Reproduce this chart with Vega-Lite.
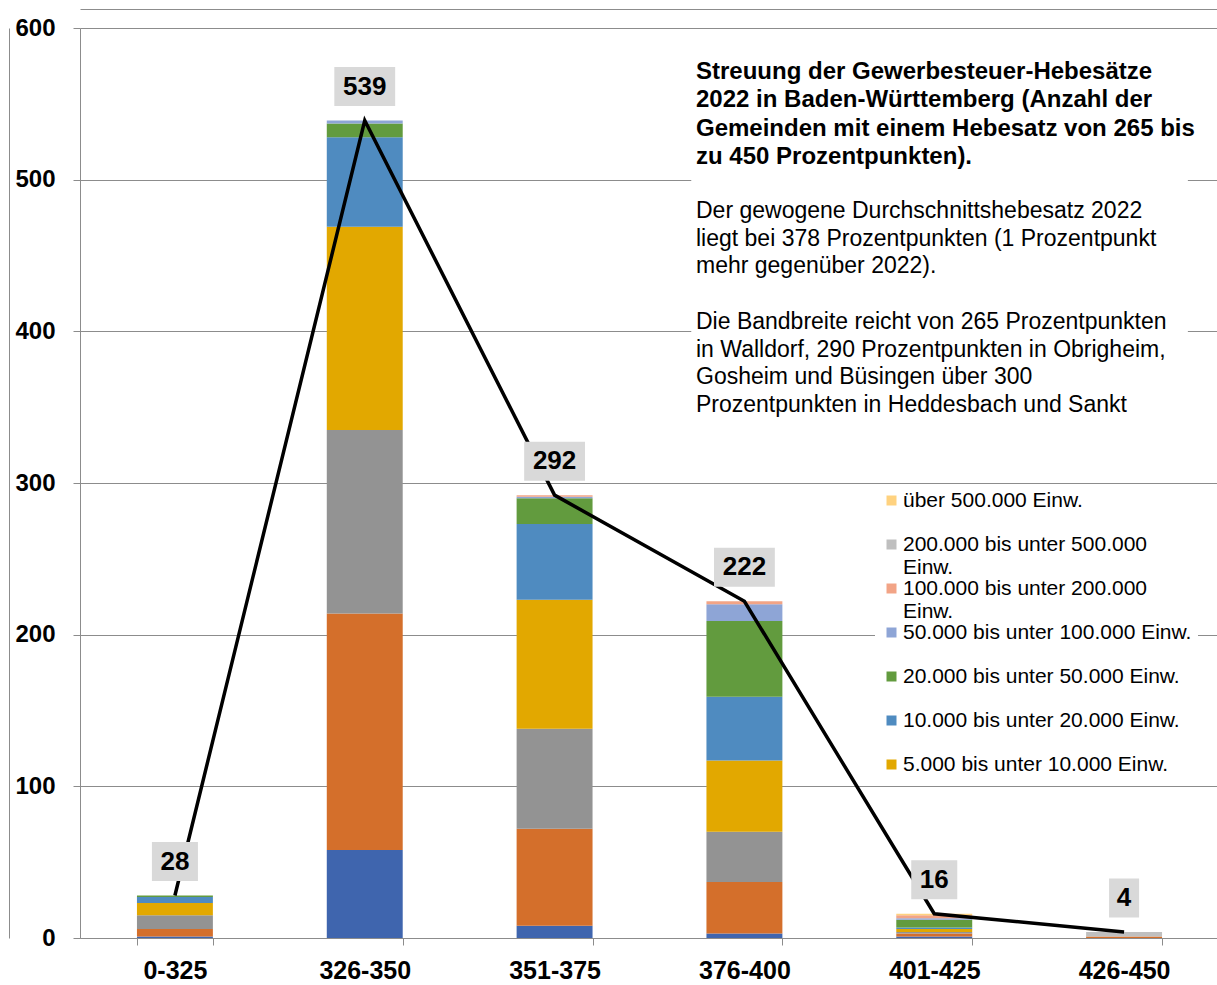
{
  "$schema": "https://vega.github.io/schema/vega-lite/v6.json",
  "width": 1139,
  "height": 910,
  "autosize": {"type": "none"},
  "padding": {"left": 80, "top": 28, "right": 0, "bottom": 47},
  "background": "white",
  "config": {"view": {"stroke": null}, "font": "Liberation Sans"},
  "title": {
    "text": ["Streuung der Gewerbesteuer-Hebesätze", "2022 in Baden-Württemberg (Anzahl der", "Gemeinden mit einem Hebesatz von 265 bis", "zu 450 Prozentpunkten)."],
    "subtitle": ["Der gewogene Durchschnittshebesatz 2022", "liegt bei 378 Prozentpunkten (1 Prozentpunkt", "mehr gegenüber 2022).", "\u200b", "Die Bandbreite reicht von 265 Prozentpunkten", "in Walldorf, 290 Prozentpunkten in Obrigheim,", "Gosheim und Büsingen über 300", "Prozentpunkten in Heddesbach und Sankt"],
    "orient": "top",
    "anchor": "start",
    "frame": "group",
    "offset": 0,
    "dx": 616,
    "dy": 408,
    "font": "Liberation Sans",
    "fontSize": 24,
    "fontWeight": "bold",
    "color": "black",
    "lineHeight": 28.3,
    "subtitleFont": "Liberation Sans",
    "subtitleFontSize": 23,
    "subtitleFontWeight": "normal",
    "subtitleColor": "black",
    "subtitleLineHeight": 27.7,
    "subtitlePadding": 31,
    "zindex": 1
  },
  "data": {
    "values": [
      {"Hebesatz": "0-325", "Groesse": "unter 1.000 Einw.", "Anzahl": 1},
      {"Hebesatz": "0-325", "Groesse": "1.000 bis unter 2.000 Einw.", "Anzahl": 5},
      {"Hebesatz": "0-325", "Groesse": "2.000 bis unter 5.000 Einw.", "Anzahl": 9},
      {"Hebesatz": "0-325", "Groesse": "5.000 bis unter 10.000 Einw.", "Anzahl": 8},
      {"Hebesatz": "0-325", "Groesse": "10.000 bis unter 20.000 Einw.", "Anzahl": 4},
      {"Hebesatz": "0-325", "Groesse": "20.000 bis unter 50.000 Einw.", "Anzahl": 1},
      {"Hebesatz": "326-350", "Groesse": "unter 1.000 Einw.", "Anzahl": 58},
      {"Hebesatz": "326-350", "Groesse": "1.000 bis unter 2.000 Einw.", "Anzahl": 156},
      {"Hebesatz": "326-350", "Groesse": "2.000 bis unter 5.000 Einw.", "Anzahl": 121},
      {"Hebesatz": "326-350", "Groesse": "5.000 bis unter 10.000 Einw.", "Anzahl": 134},
      {"Hebesatz": "326-350", "Groesse": "10.000 bis unter 20.000 Einw.", "Anzahl": 59},
      {"Hebesatz": "326-350", "Groesse": "20.000 bis unter 50.000 Einw.", "Anzahl": 9},
      {"Hebesatz": "326-350", "Groesse": "50.000 bis unter 100.000 Einw.", "Anzahl": 2},
      {"Hebesatz": "351-375", "Groesse": "unter 1.000 Einw.", "Anzahl": 8},
      {"Hebesatz": "351-375", "Groesse": "1.000 bis unter 2.000 Einw.", "Anzahl": 64},
      {"Hebesatz": "351-375", "Groesse": "2.000 bis unter 5.000 Einw.", "Anzahl": 66},
      {"Hebesatz": "351-375", "Groesse": "5.000 bis unter 10.000 Einw.", "Anzahl": 85},
      {"Hebesatz": "351-375", "Groesse": "10.000 bis unter 20.000 Einw.", "Anzahl": 50},
      {"Hebesatz": "351-375", "Groesse": "20.000 bis unter 50.000 Einw.", "Anzahl": 17},
      {"Hebesatz": "351-375", "Groesse": "50.000 bis unter 100.000 Einw.", "Anzahl": 1},
      {"Hebesatz": "351-375", "Groesse": "100.000 bis unter 200.000 Einw.", "Anzahl": 1},
      {"Hebesatz": "376-400", "Groesse": "unter 1.000 Einw.", "Anzahl": 3},
      {"Hebesatz": "376-400", "Groesse": "1.000 bis unter 2.000 Einw.", "Anzahl": 34},
      {"Hebesatz": "376-400", "Groesse": "2.000 bis unter 5.000 Einw.", "Anzahl": 33},
      {"Hebesatz": "376-400", "Groesse": "5.000 bis unter 10.000 Einw.", "Anzahl": 47},
      {"Hebesatz": "376-400", "Groesse": "10.000 bis unter 20.000 Einw.", "Anzahl": 42},
      {"Hebesatz": "376-400", "Groesse": "20.000 bis unter 50.000 Einw.", "Anzahl": 50},
      {"Hebesatz": "376-400", "Groesse": "50.000 bis unter 100.000 Einw.", "Anzahl": 11},
      {"Hebesatz": "376-400", "Groesse": "100.000 bis unter 200.000 Einw.", "Anzahl": 2},
      {"Hebesatz": "401-425", "Groesse": "unter 1.000 Einw.", "Anzahl": 1},
      {"Hebesatz": "401-425", "Groesse": "1.000 bis unter 2.000 Einw.", "Anzahl": 2},
      {"Hebesatz": "401-425", "Groesse": "2.000 bis unter 5.000 Einw.", "Anzahl": 1},
      {"Hebesatz": "401-425", "Groesse": "5.000 bis unter 10.000 Einw.", "Anzahl": 2},
      {"Hebesatz": "401-425", "Groesse": "10.000 bis unter 20.000 Einw.", "Anzahl": 1},
      {"Hebesatz": "401-425", "Groesse": "20.000 bis unter 50.000 Einw.", "Anzahl": 5},
      {"Hebesatz": "401-425", "Groesse": "50.000 bis unter 100.000 Einw.", "Anzahl": 1},
      {"Hebesatz": "401-425", "Groesse": "100.000 bis unter 200.000 Einw.", "Anzahl": 2},
      {"Hebesatz": "401-425", "Groesse": "über 500.000 Einw.", "Anzahl": 1},
      {"Hebesatz": "426-450", "Groesse": "1.000 bis unter 2.000 Einw.", "Anzahl": 1},
      {"Hebesatz": "426-450", "Groesse": "200.000 bis unter 500.000 Einw.", "Anzahl": 3}
    ]
  },
  "encoding": {
    "x": {
      "field": "Hebesatz",
      "type": "nominal",
      "sort": null,
      "scale": {"domain": ["0-325", "326-350", "351-375", "376-400", "401-425", "426-450"], "paddingInner": 0.6, "paddingOuter": 0.3},
      "axis": null
    }
  },
  "resolve": {"axis": {"x": "independent", "y": "independent"}},
  "layer": [
    {
      "data": {"values": [{}]},
      "mark": {"type": "rect", "fill": "white"},
      "encoding": {
        "x": {
          "datum": "376-400", "type": "nominal", "bandPosition": -0.2,
          "axis": {"orient": "top", "offset": 19, "domain": true, "domainColor": "#8C8C8C", "ticks": false, "labels": false, "grid": false, "title": null}
        },
        "x2": {"datum": "426-450", "bandPosition": 1.34},
        "y": {
          "datum": 582, "type": "quantitative",
          "axis": {"orient": "left", "offset": 71, "domain": true, "domainColor": "#8C8C8C", "ticks": false, "labels": false, "grid": false, "title": null}
        },
        "y2": {"datum": 345}
      }
    },
    {
      "transform": [
        {"calculate": "indexof(['unter 1.000 Einw.', '1.000 bis unter 2.000 Einw.', '2.000 bis unter 5.000 Einw.', '5.000 bis unter 10.000 Einw.', '10.000 bis unter 20.000 Einw.', '20.000 bis unter 50.000 Einw.', '50.000 bis unter 100.000 Einw.', '100.000 bis unter 200.000 Einw.', '200.000 bis unter 500.000 Einw.', 'über 500.000 Einw.'], datum.Groesse)", "as": "Rang"}
      ],
      "mark": {"type": "bar"},
      "encoding": {
        "x": {
          "field": "Hebesatz",
          "type": "nominal",
          "sort": null,
          "axis": {
            "title": null,
            "orient": "bottom",
            "labelAngle": 0,
            "labelFont": "Liberation Sans",
            "labelFontSize": 25,
            "labelFontWeight": "bold",
            "labelColor": "black",
            "labelPadding": 13,
            "tickBand": "extent",
            "tickSize": 7,
            "tickColor": "#8C8C8C",
            "domainColor": "#8C8C8C",
            "grid": false
          }
        },
        "y": {
          "field": "Anzahl",
          "type": "quantitative",
          "aggregate": "sum",
          "stack": "zero",
          "scale": {"domain": [0, 600], "nice": false},
          "axis": {
            "title": null,
            "orient": "left",
            "values": [0, 100, 200, 300, 400, 500, 600],
            "grid": true,
            "gridColor": "#8C8C8C",
            "gridWidth": 1,
            "domainColor": "#8C8C8C",
            "tickColor": "#8C8C8C",
            "tickSize": 7,
            "labelFont": "Liberation Sans",
            "labelFontSize": 24,
            "labelFontWeight": "bold",
            "labelColor": "black",
            "labelPadding": 18
          }
        },
        "order": {"field": "Rang", "type": "quantitative", "sort": "ascending"},
        "color": {
          "field": "Groesse",
          "type": "nominal",
          "scale": {
            "domain": ["unter 1.000 Einw.", "1.000 bis unter 2.000 Einw.", "2.000 bis unter 5.000 Einw.", "5.000 bis unter 10.000 Einw.", "10.000 bis unter 20.000 Einw.", "20.000 bis unter 50.000 Einw.", "50.000 bis unter 100.000 Einw.", "100.000 bis unter 200.000 Einw.", "200.000 bis unter 500.000 Einw.", "über 500.000 Einw."],
            "range": ["#3F65AE", "#D46F2B", "#939393", "#E2A800", "#4F8BC0", "#629B3E", "#8EA5D6", "#F2A486", "#BFBFBF", "#FFD27F"]
          },
          "legend": {
            "title": null,
            "orient": "none",
            "legendX": 795,
            "legendY": 456,
            "values": ["über 500.000 Einw.", "200.000 bis unter 500.000 Einw.", "100.000 bis unter 200.000 Einw.", "50.000 bis unter 100.000 Einw.", "20.000 bis unter 50.000 Einw.", "10.000 bis unter 20.000 Einw.", "5.000 bis unter 10.000 Einw."],
            "fillColor": "white",
            "padding": 6,
            "symbolType": "square",
            "symbolSize": 100,
            "symbolStrokeWidth": 0,
            "labelFont": "Liberation Sans",
            "labelFontSize": 21,
            "labelColor": "black",
            "labelLimit": 500,
            "labelOffset": 1,
            "gridAlign": "all",
            "rowPadding": -1.3,
            "labelExpr": "length(datum.label) > 30 ? [replace(datum.label, ' Einw.', ''), 'Einw.'] : datum.label",
            "zindex": 1
          }
        }
      }
    },
    {
      "transform": [{"aggregate": [{"op": "sum", "field": "Anzahl", "as": "Summe"}], "groupby": ["Hebesatz"]}],
      "mark": {"type": "line", "color": "black", "strokeWidth": 3.5},
      "encoding": {
        "y": {"field": "Summe", "type": "quantitative", "axis": null}
      }
    },
    {
      "transform": [{"aggregate": [{"op": "sum", "field": "Anzahl", "as": "Summe"}], "groupby": ["Hebesatz"]}],
      "mark": {"type": "point", "filled": true, "fill": "#D9D9D9", "opacity": 1, "strokeWidth": 0, "size": 1521, "yOffset": -34},
      "encoding": {
        "y": {"field": "Summe", "type": "quantitative", "axis": null},
        "shape": {
          "condition": [
            {"test": "datum.Summe >= 100", "value": "M-1.56,-1L1.56,-1L1.56,1L-1.56,1Z"},
            {"test": "datum.Summe >= 10", "value": "M-1.18,-1L1.18,-1L1.18,1L-1.18,1Z"}
          ],
          "value": "M-0.77,-1L0.77,-1L0.77,1L-0.77,1Z"
        }
      }
    },
    {
      "transform": [{"aggregate": [{"op": "sum", "field": "Anzahl", "as": "Summe"}], "groupby": ["Hebesatz"]}],
      "mark": {"type": "text", "font": "Liberation Sans", "fontSize": 26, "fontWeight": "bold", "color": "black", "dy": -34, "baseline": "middle", "align": "center"},
      "encoding": {
        "y": {"field": "Summe", "type": "quantitative", "axis": null},
        "text": {"field": "Summe", "type": "quantitative"}
      }
    }
  ]
}
